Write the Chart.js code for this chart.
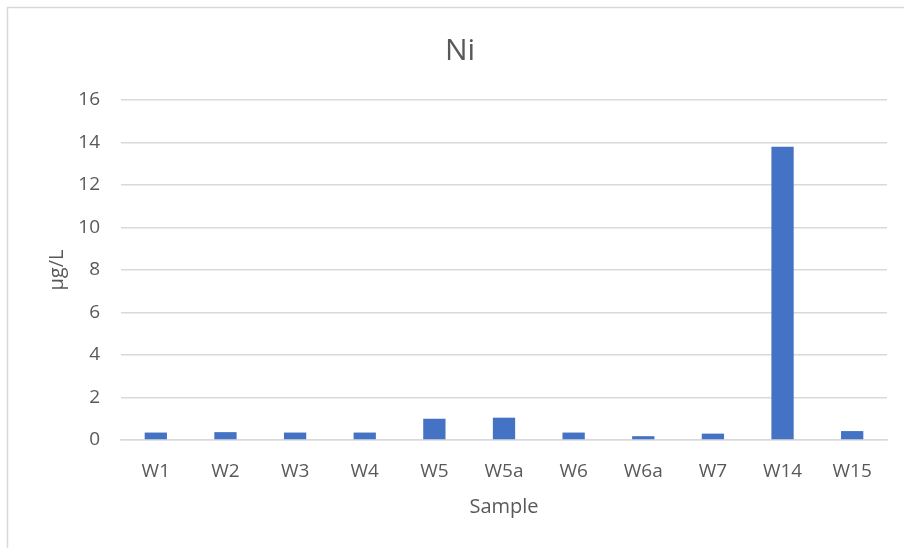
<!DOCTYPE html>
<html>
<head>
<meta charset="utf-8">
<script src="https://cdn.jsdelivr.net/npm/chart.js@4.4.1/dist/chart.umd.min.js"></script>
<style>
  html, body { margin: 0; padding: 0; background: #ffffff; }
  #wrap { position: relative; width: 904px; height: 548px; }
</style>
</head>
<body>
<div id="wrap"><canvas id="c" width="904" height="548"></canvas></div>
<script>
const categories = ["W1", "W2", "W3", "W4", "W5", "W5a", "W6", "W6a", "W7", "W14", "W15"];
const niValues = [0.35, 0.37, 0.35, 0.35, 1.0, 1.05, 0.35, 0.18, 0.3, 13.8, 0.42];
const yTicks = [0, 2, 4, 6, 8, 10, 12, 14, 16];
const chartTitle = "Ni";
const xTitle = "Sample";
const yTitle = "µg/L";

const textColor = "#595959";
const gridColor = "#d9d9d9";
const fontFamily = "'Open Sans', 'Liberation Sans', sans-serif";

const frame = {
  id: 'frame',
  beforeDraw(chart) {
    const ctx = chart.ctx;
    ctx.save();
    ctx.fillStyle = '#ffffff';
    ctx.fillRect(0, 0, chart.width, chart.height);
    ctx.strokeStyle = gridColor;
    ctx.lineWidth = 1.5;
    ctx.beginPath();
    ctx.moveTo(7.5, chart.height);
    ctx.lineTo(7.5, 7.5);
    ctx.lineTo(chart.width, 7.5);
    ctx.stroke();
    ctx.restore();
  },
  afterDraw(chart) {
    const ctx = chart.ctx;
    ctx.save();
    ctx.fillStyle = textColor;
    ctx.font = "30px " + fontFamily;
    ctx.textAlign = 'center';
    ctx.textBaseline = 'alphabetic';
    ctx.fillText(chartTitle, 460, 60);
    ctx.restore();
  }
};

new Chart(document.getElementById('c'), {
  type: 'bar',
  data: {
    labels: categories,
    datasets: [{
      label: chartTitle,
      data: niValues,
      backgroundColor: '#4472C4',
      borderWidth: 0,
      barPercentage: 0.32,
      categoryPercentage: 1.0
    }]
  },
  options: {
    responsive: false,
    animation: false,
    devicePixelRatio: 1,
    layout: { padding: { left: 8, right: 17, top: 100, bottom: 0 } },
    plugins: {
      legend: { display: false },
      tooltip: { enabled: false },
      title: { display: false }
    },
    scales: {
      x: {
        grid: { display: false },
        border: { display: true, color: gridColor, width: 1.5 },
        ticks: { color: textColor, font: { family: fontFamily, size: 19 }, padding: 12, maxRotation: 0 },
        title: {
          display: true, text: xTitle, color: textColor,
          font: { family: fontFamily, size: 20 }, padding: { top: 0, bottom: 29 }
        },
        afterFit(scale) { scale.height = 108; }
      },
      y: {
        min: 0, max: 16,
        afterBuildTicks(scale) { scale.ticks = yTicks.map(v => ({ value: v })); },
        grid: { color: gridColor, lineWidth: 1.5, drawTicks: false },
        border: { display: false },
        ticks: { color: textColor, font: { family: fontFamily, size: 19 }, padding: 21 },
        title: {
          display: true, text: yTitle, color: textColor,
          font: { family: fontFamily, size: 20 }, padding: { top: 37, bottom: 0 }
        },
        afterFit(scale) { scale.width = 113; }
      }
    }
  },
  plugins: [frame]
});
</script>
</body>
</html>
